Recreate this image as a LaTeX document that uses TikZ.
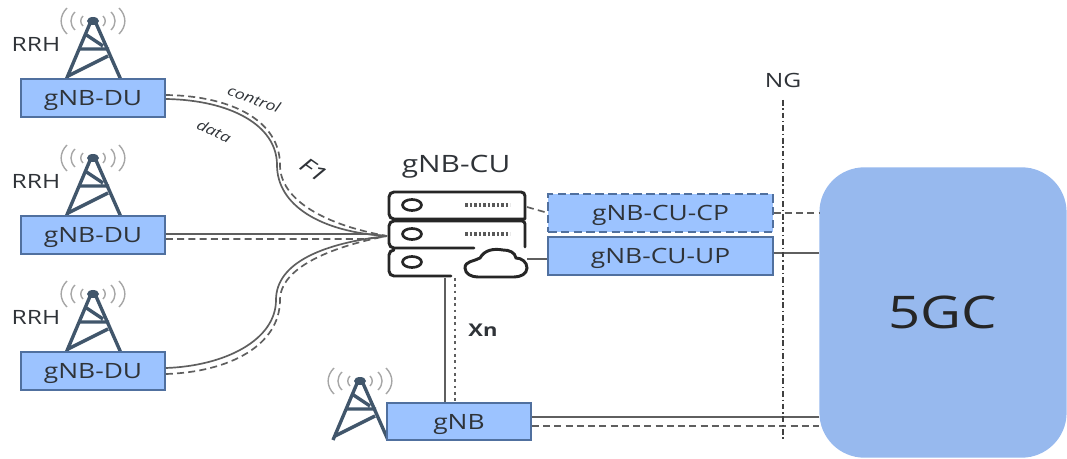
\documentclass[tikz,border=0pt]{standalone}
\usepackage{fontspec}
\setmainfont[FakeStretch=1.25]{Open Sans}
\tikzset{
    boxStyle/.style={draw=borderColour, fill=fillColour, line width=1.5pt, minimum height=26.5pt, inner sep=0pt, text height=10.7pt, text depth=0pt, font=\fontsize{15}{15}\selectfont, text=textColour},
    towerLine/.style={draw=towerColour, line width=2.4pt},
    waveLine/.style={draw=gray!70, line width=1pt},
    link/.style={draw=linkColour, line width=1.2pt},
    dashedLink/.style={draw=linkColour, line width=1.2pt, dash pattern=on 5pt off 3pt},
    serverLine/.style={draw=black!85, line width=2.1pt, line cap=round},
    plainLabel/.style={text=textColour, inner sep=0pt},
    pics/tower/.style={code={
        \draw[towerLine] (-27,59) -- (-2,0) -- (2,0) -- (28,59);
        \draw[towerLine] (-8,13) -- (10,25) (-14,28) -- (16,28) (-25,55) -- (15,35);
        \fill[towerColour] (0,0) ellipse (6 and 4);
        \foreach \r in {10,18,26} {
            \draw[waveLine] (\r,-0.5*\r) .. controls (1.3*\r,-0.2*\r) and (1.3*\r,0.2*\r) .. (\r,0.5*\r);
            \draw[waveLine] (-\r,-0.5*\r) .. controls (-1.3*\r,-0.2*\r) and (-1.3*\r,0.2*\r) .. (-\r,0.5*\r);
        }
    }}
}
\begin{document}
\begin{tikzpicture}[x=0.025cm, y=-0.025cm]
    \definecolor{borderColour}{HTML}{50709F}
    \definecolor{fillColour}{HTML}{9CC3FF}
    \definecolor{coreColour}{HTML}{97B9EE}
    \definecolor{towerColour}{HTML}{41566B}
    \definecolor{textColour}{HTML}{2F3338}
    \definecolor{linkColour}{HTML}{5F5F5F}

    \useasboundingbox (0,0) rectangle (1067,459);

    % Core network
    \node[fill=coreColour, rounded corners=32pt, minimum width=175.8pt, inner sep=0pt, minimum height=206.5pt, font=\fontsize{32}{32}\selectfont, text=black!85] (core) at (943,312.5) {5GC};

    % Towers and DU boxes
    \foreach \name/\y in {duA/98,duB/235,duC/371} {
        \pic at (93,\y-77) {tower};
        \node[boxStyle, minimum width=102pt] (\name) at (93,\y) {gNB-DU};
        \node[plainLabel, font=\fontsize{14}{14}\selectfont] at (36,\y-54) {RRH};
    }
    \pic at (360,381) {tower};

    % Boxes next to the CU
    \node[boxStyle, minimum width=102pt] (gnb) at (459,421.5) {gNB};
    \node[boxStyle, minimum width=159.5pt, dash pattern=on 6pt off 3pt] (cuCP) at (660.5,213) {gNB-CU-CP};
    \node[boxStyle, minimum width=159.5pt] (cuUP) at (660.5,256) {gNB-CU-UP};

    % Server
    \node[plainLabel, font=\fontsize{17}{17}\selectfont] (cuLabel) at (456,167) {gNB-CU};
    \coordinate (cuIn) at (387,236);
    \coordinate (cuOutCP) at (527,207);
    \coordinate (cuOutUP) at (527,259);
    \coordinate (cuDown) at (445,278);
    \coordinate (cuDownB) at (455,278);
    \draw[serverLine] (525,219) -- (525,196) arc[start angle=0, end angle=-90, radius=4] -- (394,192) arc[start angle=-90, end angle=-180, radius=5] -- (389,214) arc[start angle=180, end angle=90, radius=5] -- (525,219);
    \draw[serverLine] (525,247) -- (525,224) arc[start angle=0, end angle=-90, radius=3] -- (394,221) arc[start angle=-90, end angle=-180, radius=5] -- (389,243) arc[start angle=180, end angle=90, radius=5] -- (474,248);
    \draw[serverLine] (451,276) -- (394,276) arc[start angle=90, end angle=180, radius=5] -- (389,255) arc[start angle=-180, end angle=-90, radius=5];
    \foreach \y in {205,234,262}
        \draw[black!85, line width=1.9pt] (412,\y) ellipse (9.5 and 5.5);
    \foreach \y in {205,234}
        \draw[gray!70!black, line width=3pt, dash pattern=on 2pt off 1.2pt] (465,\y) -- (510,\y);
    \draw[serverLine] (478,277) to[out=180, in=270] (465,268) to[out=90, in=210] (480,258)
        to[out=60, in=170] (503,250) to[out=0, in=100] (516,258) to[out=0, in=90] (527,268)
        to[out=270, in=0] (514,277) -- cycle;

    % F1 links
    \draw[link] (duA.east) ++(0,1) .. controls (230,100) and (277,125) .. (277,165) .. controls (277,205) and (320,232) .. (cuIn);
    \draw[dashedLink] (duA.east) ++(0,-3) .. controls (234,96) and (280,122) .. (280,165) .. controls (280,200) and (325,225) .. (cuIn);
    \draw[link] (duB.east) ++(0,-1) -- (367,234) -- (cuIn);
    \draw[dashedLink] (duB.east) ++(0,4) -- (367,239) -- (cuIn);
    \draw[link] (duC.east) ++(0,-3) .. controls (225,366) and (276,340) .. (276,300) .. controls (276,262) and (325,243) .. (cuIn);
    \draw[dashedLink] (duC.east) ++(0,3) .. controls (230,372) and (280,345) .. (280,300) .. controls (280,268) and (330,247) .. (cuIn);

    % Links to CP, UP and the core
    \draw[dashedLink] (cuOutCP) -- (548,213);
    \draw[link] (cuOutUP) -- (cuUP.west |- cuOutUP);
    \draw[dashedLink] (cuCP.east) -- (core.west |- cuCP.east);
    \draw[link] (cuUP.east |- 0,253) -- (core.west |- 0,253);
    \draw[link] (gnb.east |- 0,417) -- (core.west |- 0,417);
    \draw[dashedLink] (gnb.east |- 0,426) -- (core.west |- 0,426);

    % Xn links
    \draw[link, line width=1.7pt] (cuDown) -- (cuDown |- gnb.north);
    \draw[linkColour, line width=1.7pt, dash pattern=on 2pt off 2.5pt] (cuDownB) -- (cuDownB |- gnb.north);

    % NG line
    \coordinate (ngTop) at (783,100);
    \coordinate (ngBottom) at (783,441);
    \draw[black!75, line width=1.2pt, dash pattern=on 4pt off 2pt on 1pt off 2pt] (ngTop) -- (ngBottom);

    % Labels
    \node[plainLabel, font=\fontsize{14}{14}\selectfont] (ngLabel) at (783,80) {NG};
    \node[plainLabel, font=\fontsize{12.5}{12.5}\selectfont\bfseries] (xnLabel) at (483,330) {Xn};
    \node[plainLabel, rotate=-20, font=\fontsize{10}{10}\selectfont\itshape] (controlLabel) at (254,99) {control};
    \node[plainLabel, rotate=-25, font=\fontsize{10}{10}\selectfont\itshape] (dataLabel) at (214,131) {data};
    \node[plainLabel, rotate=-35, font=\fontsize{15}{15}\selectfont\itshape] (fLabel) at (314,170) {F1};
\end{tikzpicture}
\end{document}
